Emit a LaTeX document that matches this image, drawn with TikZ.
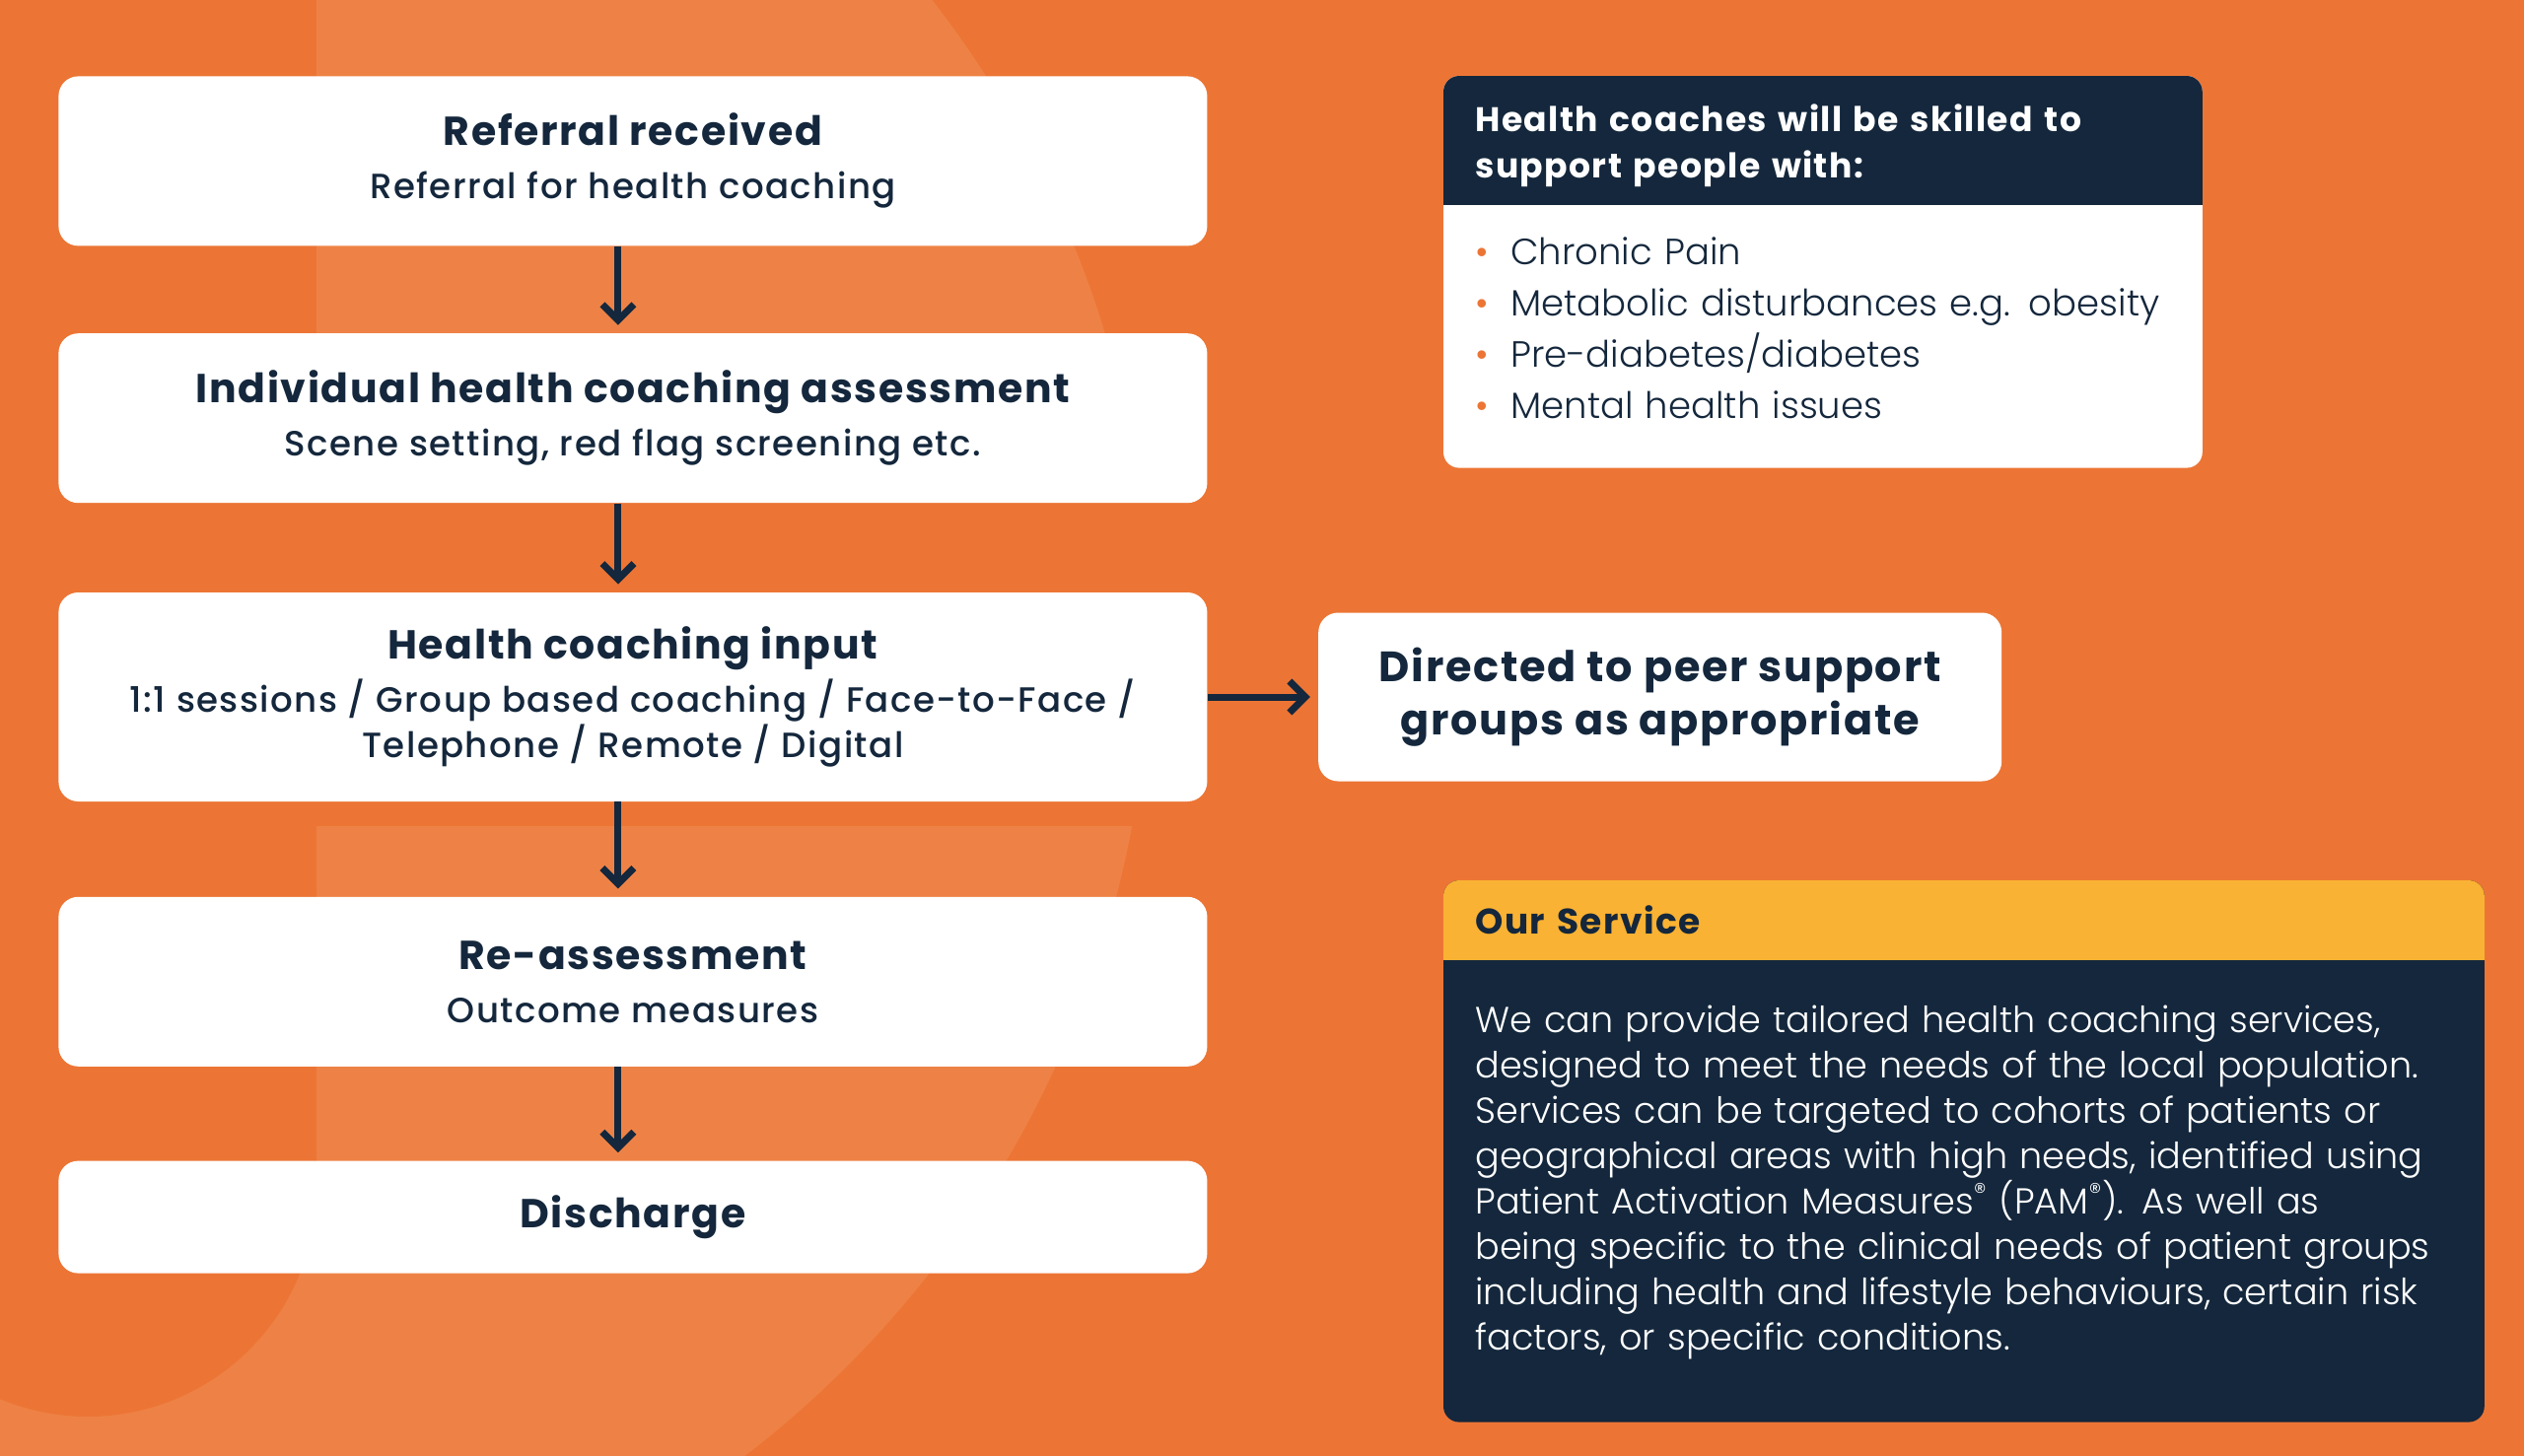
\documentclass[tikz,border=0pt]{standalone}
\usepackage{fontspec}
\setmainfont{Poppins}
\newfontfamily\lightfont{Poppins Light}
\newfontfamily\mediumfont{Poppins Medium}[LetterSpace=4]
\newfontfamily\heavyfont{Poppins Bold}[LetterSpace=4]
\usepackage{tikz}
\usetikzlibrary{arrows.meta,positioning,backgrounds}
\usepackage{xcolor}
\definecolor{pageorange}{HTML}{EC7535}
\definecolor{pagelight}{HTML}{EE8246}
\definecolor{coachnavy}{HTML}{14273C}
\definecolor{coachyellow}{HTML}{F9B233}
\newcommand{\steptitle}[1]{{\heavyfont\fontsize{20.5}{23}\selectfont #1}}
\newcommand{\coachitem}[1]{\makebox[18pt][l]{\textcolor{pageorange}{•}}#1}
\tikzset{
  stepbox/.style={
    rectangle,
    rounded corners=10pt,
    fill=white,
    text=coachnavy,
    minimum width=582.5pt,
    minimum height=86pt,
    inner sep=0pt,
    align=center,
    font=\mediumfont\fontsize{17.8}{23}\selectfont
  },
  cardhead/.style={
    inner xsep=16pt,
    inner ysep=0pt,
    align=left,
    font=\heavyfont\fontsize{17.3}{23.5}\selectfont
  },
  cardtext/.style={
    inner xsep=16pt,
    inner ysep=0pt,
    align=left,
    font=\lightfont\fontsize{18.5}{26}\selectfont
  },
  flowarrow/.style={
    -{Straight Barb[length=8pt,width=16pt]},
    line width=3.5pt,
    draw=coachnavy,
    shorten >=4pt
  }
}

\begin{document}
\begin{tikzpicture}[x=0.5pt,y=-0.5pt]
\useasboundingbox (0,0) rectangle (2560,1477);

% flow
\node[stepbox, anchor=north west] (referral) at (59,77) {\steptitle{Referral received}\\[4pt]Referral for health coaching};
\node[stepbox, below=44pt of referral] (assess) {\steptitle{Individual health coaching assessment}\\[4pt]Scene setting, red flag screening etc.};
\node[stepbox, below=45pt of assess, minimum height=106pt] (input) {\steptitle{Health coaching input}\\[4pt]1:1 sessions / Group based coaching / Face-to-Face /\\Telephone / Remote / Digital};
\node[stepbox, below=48pt of input] (reassess) {\steptitle{Re-assessment}\\[4pt]Outcome measures};
\node[stepbox, below=47.5pt of reassess, minimum height=57pt] (discharge) {\steptitle{Discharge}};
\node[stepbox, right=56pt of input, minimum width=346.5pt, minimum height=85.5pt,
  font=\heavyfont\fontsize{21.5}{27}\selectfont] (peer) {Directed to peer support\\groups as appropriate};

\draw[flowarrow] ([xshift=-7.5pt]referral.south) -- ([xshift=-7.5pt]assess.north);
\draw[flowarrow] ([xshift=-7.5pt]assess.south) -- ([xshift=-7.5pt]input.north);
\draw[flowarrow] ([xshift=-7.5pt]input.south) -- ([xshift=-7.5pt]reassess.north);
\draw[flowarrow] ([xshift=-7.5pt]reassess.south) -- ([xshift=-7.5pt]discharge.north);
\draw[flowarrow] (input.east) -- (peer.west);

% side cards
\node[cardhead, text=white, text width=352.5pt, minimum height=60pt, anchor=north west] (skillshead) at (1464,87) {Health coaches will be skilled to\\support people with:};
\node[cardtext, text=coachnavy, text width=352.5pt, minimum height=125pt, below=0pt of skillshead] (skillslist) {%
  \coachitem{Chronic Pain}\\
  \coachitem{Metabolic disturbances e.g. obesity}\\
  \coachitem{Pre-diabetes/diabetes}\\
  \coachitem{Mental health issues}};

\node[cardhead, text=coachnavy, text width=495.5pt, minimum height=40pt, anchor=north west,
  font=\heavyfont\fontsize{18}{23}\selectfont] (servicehead) at (1464,893) {Our Service};
\node[cardtext, text=white, text width=495.5pt, minimum height=225pt, below=0pt of servicehead,
  font=\lightfont\fontsize{18.3}{23}\selectfont] (servicetext) {%
  We can provide tailored health coaching services,\\
  designed to meet the needs of the local population.\\
  Services can be targeted to cohorts of patients or\\
  geographical areas with high needs, identified using\\
  Patient Activation Measures\textsuperscript{®} (PAM\textsuperscript{®}). As well as\\
  being specific to the clinical needs of patient groups\\
  including health and lifestyle behaviours, certain risk\\
  factors, or specific conditions.};

\begin{scope}[on background layer]
  \fill[pageorange] (0,0) rectangle (2560,1477);
  \begin{scope}
    \clip (116,644) circle (1050);
    \fill[pagelight] (321,0) rectangle (1400,500);
    \fill[pagelight] (0,838) rectangle (1400,1477);
  \end{scope}
  \fill[pageorange] (-60,838) -- (321,838) -- (321,1205) arc[start angle=0, end angle=125, radius=232] -- (-60,1395) -- cycle;
  % card fills
  \begin{scope}
    \clip[rounded corners=8pt] ([yshift=5pt]skillshead.north west) rectangle ([yshift=-8pt]skillslist.south east);
    \fill[white] ([yshift=5pt]skillshead.north west) rectangle ([yshift=-8pt]skillslist.south east);
    \fill[coachnavy] ([yshift=5pt]skillshead.north west) rectangle (skillshead.south east);
  \end{scope}
  \begin{scope}
    \clip[rounded corners=8pt] (servicehead.north west) rectangle ([yshift=-9pt]servicetext.south east);
    \fill[coachnavy] (servicehead.north west) rectangle ([yshift=-9pt]servicetext.south east);
    \fill[coachyellow] (servicehead.north west) rectangle (servicehead.south east);
  \end{scope}
\end{scope}
\end{tikzpicture}
\end{document}
